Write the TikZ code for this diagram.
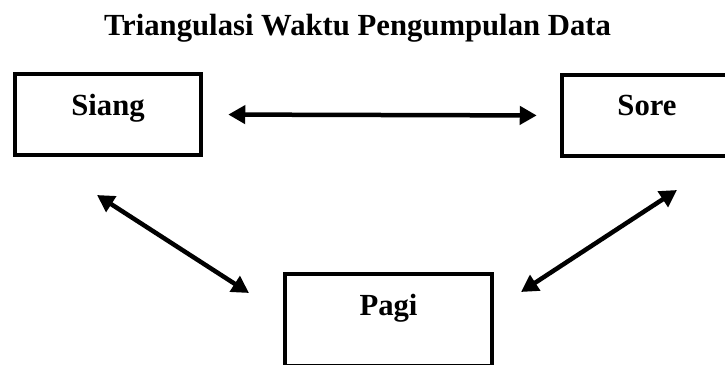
\documentclass[tikz,border=0pt]{standalone}
\usepackage{fontspec}
\setmainfont{Liberation Serif}
\usetikzlibrary{arrows.meta}
\begin{document}
\begin{tikzpicture}[x=1pt,y=-1pt,
  lbl/.style={font=\fontsize{30.7}{36}\selectfont\bfseries},
  box/.style={lbl, draw, line width=4.5pt, rectangle, inner sep=0pt, anchor=base},
  link/.style={line width=4.5pt, {Triangle[length=17pt,width=18pt]}-{Triangle[length=17pt,width=18pt]}}]
\useasboundingbox (0,0) rectangle (725,364);
\clip (0,0) rectangle (725,364);
\node[lbl, anchor=base] (title) at (357.5,35) {Triangulasi Waktu Pengumpulan Data};
\node[box, minimum width=186pt, text height=41pt, text depth=40pt] (siang) at (108,115) {Siang};
\node[box, minimum width=170pt, text height=40pt, text depth=41pt] (sore) at (647,115) {Sore};
\node[box, minimum width=207pt, text height=41pt, text depth=51pt] (pagi) at (388.5,315) {Pagi};
\coordinate (l1) at (97,195);
\coordinate (l2) at (249,293);
\coordinate (r1) at (677,190);
\coordinate (r2) at (521,292);
\draw[link, shorten <=25pt, shorten >=23pt] (siang.east) -- (sore.west);
\draw[link] (l1) -- (l2);
\draw[link] (r1) -- (r2);
\end{tikzpicture}
\end{document}
